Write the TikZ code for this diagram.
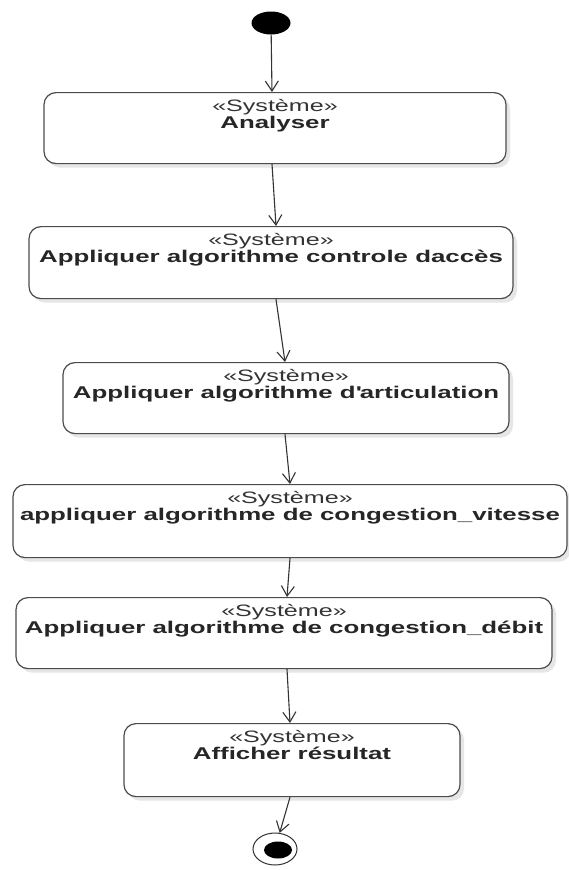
\documentclass[tikz,border=0pt]{standalone}
\usepackage{fontspec}
\setmainfont[FakeStretch=1.52]{Liberation Sans}
\usetikzlibrary{shapes.geometric,shadows,arrows.meta}
\tikzset{
    act/.style={draw=black!70, line width=1.2pt, rounded corners=12pt, fill=white, anchor=north,
        drop shadow={shadow xshift=4pt, shadow yshift=-4pt, fill=black!12, opacity=0.8}},
    stereo/.style={anchor=base, inner sep=0pt, text=black!80, font=\fontsize{16.5}{17}\selectfont},
    actname/.style={anchor=base, inner sep=0pt, text=black!85, font=\fontsize{17}{17}\selectfont\bfseries},
    flow/.style={-{Straight Barb[length=10pt,width=13pt]}, line width=1.1pt, black!80}
}
\begin{document}
\begin{tikzpicture}[x=1pt, y=-1pt]
    \useasboundingbox (0,0) rectangle (569,870);
    \fill[white] (0,0) rectangle (569,870);

    \node[ellipse, fill=black, minimum width=39pt, minimum height=23pt, inner sep=0pt] (start) at (271,23) {};

    \node[act, minimum width=462pt, minimum height=71pt] (analyser) at (275,92) {};
    \node[stereo]  (analyserS) at ([yshift=-19pt]analyser.north) {«Système»};
    \node[actname] (analyserN) at ([yshift=-36pt]analyser.north) {Analyser};

    \node[act, minimum width=484pt, minimum height=72pt] (acces) at (271,226) {};
    \node[stereo]  (accesS) at ([yshift=-19pt]acces.north) {«Système»};
    \node[actname] (accesN) at ([yshift=-36pt]acces.north) {Appliquer algorithme controle daccès};

    \node[act, minimum width=446pt, minimum height=71pt] (artic) at (286,362) {};
    \node[stereo]  (articS) at ([yshift=-19pt]artic.north) {«Système»};
    \node[actname] (articN) at ([yshift=-36pt]artic.north) {Appliquer algorithme d\textquotesingle articulation};

    \node[act, minimum width=554pt, minimum height=73pt] (vitesse) at (290,484) {};
    \node[stereo]  (vitesseS) at ([yshift=-19pt]vitesse.north) {«Système»};
    \node[actname] (vitesseN) at ([yshift=-36pt]vitesse.north) {appliquer algorithme de congestion\_vitesse};

    \node[act, minimum width=536pt, minimum height=71pt] (debit) at (284,597) {};
    \node[stereo]  (debitS) at ([yshift=-19pt]debit.north) {«Système»};
    \node[actname] (debitN) at ([yshift=-36pt]debit.north) {Appliquer algorithme de congestion\_débit};

    \node[act, minimum width=336pt, minimum height=73pt] (afficher) at (292,723) {};
    \node[stereo]  (afficherS) at ([yshift=-19pt]afficher.north) {«Système»};
    \node[actname] (afficherN) at ([yshift=-36pt]afficher.north) {Afficher résultat};

    \node[ellipse, draw=black!80, line width=1pt, minimum width=44pt, minimum height=32pt, inner sep=0pt] (fin) at (275,849) {};
    \node[ellipse, fill=black, minimum width=28pt, minimum height=17pt, inner sep=0pt] (finIn) at (278,850) {};

    \draw[flow] (start) -- ([xshift=-3pt]analyser.north);
    \draw[flow] ([xshift=-3pt]analyser.south) -- ([xshift=5pt]acces.north);
    \draw[flow] ([xshift=5pt]acces.south) -- ([xshift=-1pt]artic.north);
    \draw[flow] ([xshift=-1pt]artic.south) -- (vitesse.north);
    \draw[flow] (vitesse.south) -- ([xshift=3pt]debit.north);
    \draw[flow] ([xshift=3pt]debit.south) -- ([xshift=-2pt]afficher.north);
    \draw[flow] ([xshift=-2pt]afficher.south) -- (fin);
\end{tikzpicture}
\end{document}
